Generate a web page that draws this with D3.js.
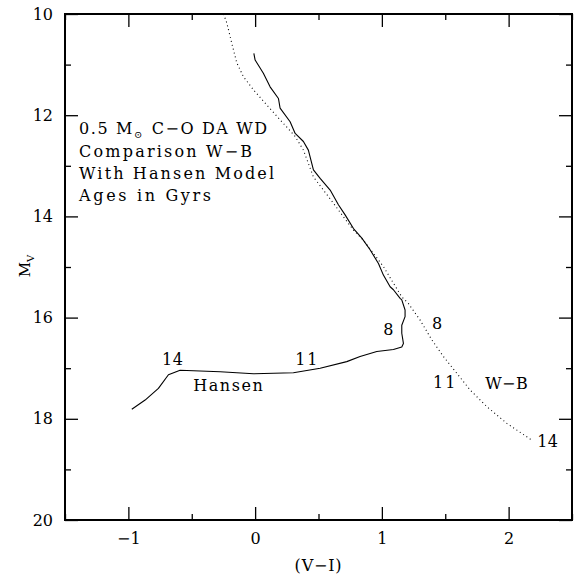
<!DOCTYPE html>
<html>
<head>
<meta charset="utf-8">
<script src="https://cdn.jsdelivr.net/npm/d3@7"></script>
<style>
  html, body { margin: 0; padding: 0; background: #fff; }
  svg { display: block; }
  text { font-family: "DejaVu Serif", "Liberation Serif", serif; fill: #000; }
</style>
</head>
<body>
<svg id="chart" width="574" height="576"></svg>
<script>
// ---- data ----
const hansenVI = [-0.01, 0.0, 0.065, 0.118, 0.184, 0.197, 0.276, 0.316, 0.381, 0.42, 0.46, 0.513, 0.592, 0.657, 0.71, 0.776, 0.842, 0.907, 0.973, 1.012, 1.065, 1.091, 1.144, 1.157, 1.183, 1.183, 1.157, 1.157, 1.170, 1.157, 1.091, 0.96, 0.828, 0.723, 0.513, 0.302, -0.013, -0.276, -0.592, -0.684, -0.763, -0.868, -0.973];
const hansenMv = [10.78, 10.91, 11.17, 11.44, 11.67, 11.86, 12.13, 12.36, 12.52, 12.69, 13.08, 13.25, 13.48, 13.77, 13.97, 14.24, 14.43, 14.66, 14.93, 15.16, 15.39, 15.45, 15.62, 15.65, 15.85, 15.98, 16.15, 16.31, 16.51, 16.58, 16.63, 16.67, 16.77, 16.87, 17.00, 17.09, 17.11, 17.07, 17.04, 17.13, 17.40, 17.63, 17.81];

const wbVI = [-0.249, -0.223, -0.184, -0.144, -0.092, -0.013, 0.092, 0.197, 0.316, 0.381, 0.46, 0.539, 0.618, 0.697, 0.776, 0.854, 0.933, 1.012, 1.091, 1.157, 1.209, 1.302, 1.394, 1.486, 1.591, 1.696, 1.828, 1.986, 2.193];
const wbMv = [10.0, 10.18, 10.58, 10.97, 11.24, 11.50, 11.80, 12.09, 12.42, 12.69, 13.22, 13.48, 13.74, 14.01, 14.27, 14.47, 14.73, 14.99, 15.32, 15.59, 15.72, 16.05, 16.44, 16.77, 17.10, 17.43, 17.76, 18.09, 18.44];

const xMajorTicks = [-1, 0, 1, 2];
const xMinorTicks = [-1.5, -0.5, 0.5, 1.5, 2.5];
const yMajorTicks = [10, 12, 14, 16, 18, 20];
const yMinorTicks = [11, 13, 15, 17, 19];

const curveLabelText = ["14", "Hansen", "11", "8", "8", "11", "W\u2212B", "14"];
const curveLabelVI  = [-0.734, -0.489, 0.316, 1.010, 1.396, 1.404, 1.815, 2.225];
const curveLabelMv  = [16.94, 17.45, 16.94, 16.34, 16.23, 17.39, 17.41, 18.56];

const noteLines = ["0.5 M", "Comparison W\u2212B", "With Hansen Model", "Ages in Gyrs"];
const noteVI = -1.389;
const noteMv = [12.38, 12.83, 13.27, 13.70];

// ---- layout ----
const svg = d3.select("#chart");
const L = 65, R = 572, T = 14, B = 520;
const x = d3.scaleLinear().domain([-1.5, 2.5]).range([L, R]);
const y = d3.scaleLinear().domain([10, 20]).range([T, B]);
const fmt = d3.format("d");

svg.append("rect").attr("width", 574).attr("height", 576).attr("fill", "#fff");

function styleAxis(g) {
  g.select(".domain").remove();
  g.selectAll(".tick line").attr("stroke", "#000").attr("stroke-width", 1.3);
}

// bottom
svg.append("g").attr("transform", `translate(0,${B})`)
  .call(d3.axisBottom(x).tickValues(xMajorTicks).tickSize(-13).tickPadding(13).tickFormat(fmt))
  .call(styleAxis)
  .call(g => g.selectAll("text").attr("font-size", 16).attr("font-family", "DejaVu Serif"));
svg.append("g").attr("transform", `translate(0,${B})`)
  .call(d3.axisBottom(x).tickValues(xMinorTicks).tickSize(-6).tickFormat(""))
  .call(styleAxis);
// top
svg.append("g").attr("transform", `translate(0,${T})`)
  .call(d3.axisTop(x).tickValues(xMajorTicks).tickSize(-13).tickFormat(""))
  .call(styleAxis);
svg.append("g").attr("transform", `translate(0,${T})`)
  .call(d3.axisTop(x).tickValues(xMinorTicks).tickSize(-6).tickFormat(""))
  .call(styleAxis);
// left
svg.append("g").attr("transform", `translate(${L},0)`)
  .call(d3.axisLeft(y).tickValues(yMajorTicks).tickSize(-13).tickPadding(12).tickFormat(fmt))
  .call(styleAxis)
  .call(g => g.selectAll("text").attr("font-size", 16).attr("font-family", "DejaVu Serif"));
svg.append("g").attr("transform", `translate(${L},0)`)
  .call(d3.axisLeft(y).tickValues(yMinorTicks).tickSize(-6).tickFormat(""))
  .call(styleAxis);
// right
svg.append("g").attr("transform", `translate(${R},0)`)
  .call(d3.axisRight(y).tickValues(yMajorTicks).tickSize(-13).tickFormat(""))
  .call(styleAxis);
svg.append("g").attr("transform", `translate(${R},0)`)
  .call(d3.axisRight(y).tickValues(yMinorTicks).tickSize(-6).tickFormat(""))
  .call(styleAxis);

// frame
svg.append("rect").attr("x", L).attr("y", T).attr("width", R - L).attr("height", B - T)
  .attr("fill", "none").attr("stroke", "#000").attr("stroke-width", 2);

// curves
const line = d3.line().x(d => x(d[0])).y(d => y(d[1])).curve(d3.curveLinear);
const hansen = hansenVI.map((v, i) => [v, hansenMv[i]]);
const wb = wbVI.map((v, i) => [v, wbMv[i]]);

svg.append("path").datum(hansen).attr("d", line)
  .attr("fill", "none").attr("stroke", "#000").attr("stroke-width", 1.1)
  .attr("stroke-linejoin", "round");
svg.append("path").datum(wb).attr("d", line)
  .attr("fill", "none").attr("stroke", "#000").attr("stroke-width", 1.1)
  .attr("stroke-dasharray", "1,3");

// curve labels
svg.append("g").selectAll("text").data(curveLabelText).join("text")
  .attr("x", (d, i) => x(curveLabelVI[i]))
  .attr("y", (d, i) => y(curveLabelMv[i]))
  .attr("font-size", 16)
  .attr("letter-spacing", d => d === "11" ? 2 : (d === "Hansen" ? 1.6 : 0.5))
  .text(d => d);

// note block
const noteWidths = [188, 173, 195, 132];
const note = svg.append("g");
noteLines.forEach((t, i) => {
  const tx = note.append("text").attr("x", x(noteVI)).attr("y", y(noteMv[i])).attr("font-size", 16);
  if (i === 0) {
    tx.attr("letter-spacing", 1.6);
    tx.append("tspan").text("0.5 M");
    tx.append("tspan").text("\u2299").attr("font-size", 10).attr("dy", 4);
    tx.append("tspan").text(" C\u2212O DA WD").attr("dy", -4).attr("dx", 1);
  } else {
    tx.text(t).attr("textLength", noteWidths[i]).attr("lengthAdjust", "spacing");
  }
});

// axis titles
svg.append("text").attr("x", (L + R) / 2).attr("y", 571).attr("text-anchor", "middle")
  .attr("font-size", 16).attr("letter-spacing", 0.8).text("(V\u2212I)");
const yt = svg.append("text").attr("transform", "translate(30,266) rotate(-90)")
  .attr("text-anchor", "middle").attr("font-size", 15);
yt.append("tspan").text("M");
yt.append("tspan").text("V").attr("font-size", 10).attr("dy", 4);
</script>
</body>
</html>
